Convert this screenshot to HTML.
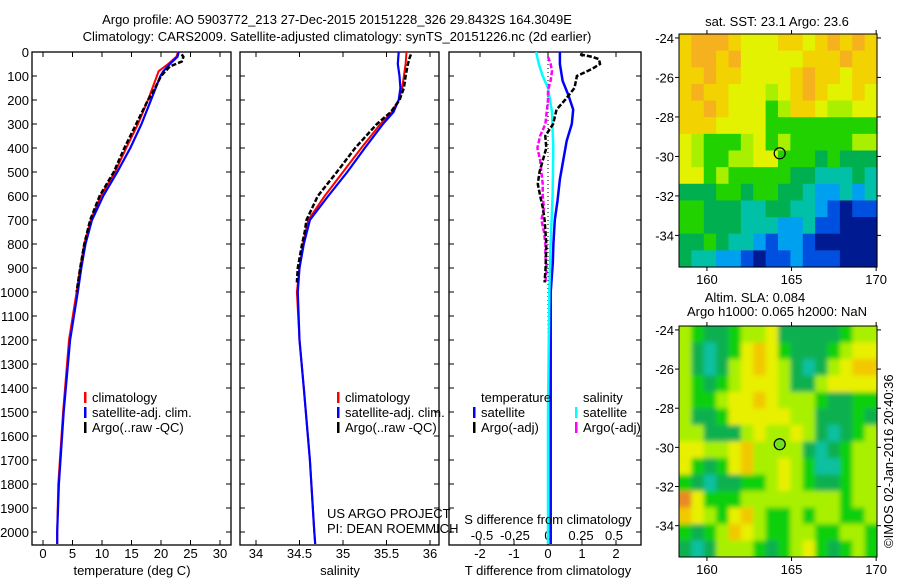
<!DOCTYPE html>
<html><head><meta charset="utf-8">
<style>
html,body{margin:0;padding:0;background:#fff;}
svg{display:block;font-family:"Liberation Sans",sans-serif;}
text{font-size:13px;fill:#000;}
</style></head>
<body>
<svg id="fig" width="900" height="580" viewBox="0 0 900 580" xmlns="http://www.w3.org/2000/svg">
<defs>
<filter id="blurSla" x="-5%" y="-5%" width="110%" height="110%"><feGaussianBlur stdDeviation="2.5"/></filter>
<clipPath id="clipSla"><rect x="679" y="326" width="198" height="231"/></clipPath>
</defs>
<text x="337" y="24" text-anchor="middle">Argo profile: AO 5903772_213 27-Dec-2015 20151228_326 29.8432S 164.3049E</text>
<text x="337" y="41" text-anchor="middle">Climatology: CARS2009. Satellite-adjusted climatology: synTS_20151226.nc (2d earlier)</text>
<g id="plots"></g>
<text x="132" y="575" text-anchor="middle">temperature (deg C)</text>
<text x="340" y="575" text-anchor="middle">salinity</text>
<text x="548" y="575" text-anchor="middle">T difference from climatology</text>
<text x="548" y="524" text-anchor="middle">S difference from climatology</text>
<text x="327" y="518">US ARGO PROJECT</text>
<text x="327" y="533">PI: DEAN ROEMMICH</text>
<text x="777" y="26" text-anchor="middle">sat. SST: 23.1 Argo: 23.6</text>
<text x="755" y="302" text-anchor="middle">Altim. SLA: 0.084</text>
<text x="777" y="316" text-anchor="middle">Argo h1000: 0.065 h2000: NaN</text>
<text x="0" y="0" transform="translate(893,548) rotate(-90)">©IMOS 02-Jan-2016 20:40:36</text>
</svg>
<script>
// ---- profile data ----
const climDepths=[0,20,50,80,100,200,300,400,500,600,700,800,900,1000,1200,1500,1800,2000,2050];
const tempClim=[22.9,22.6,21.2,19.6,19.3,17.8,16.1,14.1,12.2,9.8,8.1,7.0,6.3,5.7,4.4,3.4,2.6,2.4,2.4];
const tempSat=[23.0,22.8,21.5,20.4,19.9,18.3,16.7,14.8,12.6,10.2,8.3,7.2,6.5,5.9,4.6,3.5,2.7,2.4,2.4];
const argoTDepths=[10,20,40,60,100,150,200,300,400,500,600,700,800,900,1000];
const tempArgo=[23.5,23.8,23.5,21.5,20,19,17.8,15.8,13.8,12,9.6,8.0,7.0,6.3,5.7];
const salDepths=[0,50,100,150,200,250,300,400,500,600,700,800,900,1000,1200,1400,1700,2000,2050];
const salClim=[35.73,35.72,35.70,35.68,35.64,35.56,35.43,35.21,35.0,34.79,34.6,34.54,34.5,34.47,34.5,34.55,34.62,34.67,34.68];
const salSat=[35.64,35.63,35.65,35.66,35.64,35.58,35.46,35.25,35.05,34.83,34.62,34.55,34.5,34.48,34.5,34.55,34.62,34.67,34.68];
const argoSDepths=[10,30,60,100,150,200,250,300,400,500,600,700,750,800,900,960];
const salArgo=[35.78,35.76,35.74,35.72,35.70,35.65,35.55,35.39,35.14,34.93,34.71,34.58,34.56,34.53,34.48,34.47];
const dTSatDepths=[0,50,120,180,240,300,370,450,530,620,700,800,880,1000,1500,2000,2050];
const dTSat=[0.35,0.35,0.43,0.6,0.74,0.7,0.55,0.45,0.35,0.28,0.2,0.16,0.14,0.08,0.08,0.08,0.08];
const dSSatDepths=[0,50,100,150,250,400,600,800,1000,1500,2000,2050];
const dSSat=[-0.09,-0.07,-0.04,0,0.03,0.04,0.035,0.02,0.01,0,0,0];
const dTArgoDepths=[10,20,30,50,70,100,150,200,240,300,350,400,450,500,550,600,650,700,800,900,960];
const dTArgo=[0.94,1.3,1.5,1.53,1.3,0.85,0.78,0.5,0.25,0.15,-0.08,-0.05,-0.15,-0.25,-0.3,-0.23,-0.15,-0.1,-0.05,-0.07,-0.1];
const dSArgoDepths=[20,50,80,120,160,200,250,300,350,400,450,500,550,600,650,700,750,800,850,900,960];
const dSArgo=[0.0,0.02,0.03,0.02,0.0,0.0,-0.01,-0.02,-0.06,-0.08,-0.06,-0.05,-0.04,-0.04,-0.03,-0.05,-0.03,-0.02,-0.02,-0.01,-0.02];
const depthTicks=[0,100,200,300,400,500,600,700,800,900,1000,1100,1200,1300,1400,1500,1600,1700,1800,1900,2000];
const tempTicks=[0,5,10,15,20,25,30];
const salTicks=[34,34.5,35,35.5,36];
const salTickLabels=["34","34.5","35","35.5","36"];
const dTTicks=[-2,-1,0,1,2];
const dSTicks=[-0.5,-0.25,0,0.25,0.5];
const dSTickLabels=["-0.5","-0.25","0","0.25","0.5"];
// ---- map data (lat rows north->south, lon cols west->east) ----
const sstLegendColors=["#f5b21e","#f2d200","#e2f200","#a8f000","#22d200","#00b050","#00c0a8","#00a0f0","#0050e0","#001a92"];
const sstGrid=[
"1000122211210101","1001022222111011","1101122221011211","1011222321012212",
"1101222431123322","1112222444444444","2344432434444433","2344332244454555",
"2243444445566656","5554454455677676","4455566556678988","4455566677688999",
"5545667877899999","5667789887888999"];
const slaLegendColors=["#10c0a0","#10b050","#10d010","#a8f000","#e8f000","#f2c800","#e88a20"];
const slaGrid=[
"3211233411111233","3101245421112344","3101345431013455","3212344431134444",
"3223445433321122","3112444443311121","3311134334310123","4433453333101233",
"4212453343200233","2101122343211233","6422233333333233","5432453223233223",
"2123543223322332","1013332123421232"];
const mapLonMin=158.35,mapLonMax=170.05,mapLatMax=-23.8,mapLatMin=-35.6;
const lonTicks=[160,165,170];
const latTicks=[-24,-26,-28,-30,-32,-34];
const argoLon=164.3,argoLat=-29.84;

const NS="http://www.w3.org/2000/svg";
const root=document.getElementById('plots');
function mk(tag,attrs,parent){const e=document.createElementNS(NS,tag);for(const k in attrs)e.setAttribute(k,attrs[k]);(parent||root).appendChild(e);return e;}
const yTop=52,yPer=0.24,yBot=545;
function yD(d){return yTop+d*yPer;}

function panel(name,x0,x1,xf,ticks,labels,showDepth){
  const g=mk('g',{});
  
  
  const r=mk('rect',{x:x0,y:yTop,width:x1-x0,height:yBot-yTop,fill:'none',stroke:'#000','stroke-width':1.3},g);
  
  
  depthTicks.forEach(d=>{
    const y=yD(d);
    mk('line',{x1:x0,x2:x0+5,y1:y,y2:y,stroke:'#000'},g);
    mk('line',{x1:x1-5,x2:x1,y1:y,y2:y,stroke:'#000'},g);
    if(showDepth){const t=mk('text',{x:x0-3,y:y+5,'text-anchor':'end'},g);t.textContent=d;
      
      }
  });
  ticks.forEach((v,i)=>{
    const x=xf(v);
    mk('line',{x1:x,x2:x,y1:yBot,y2:yBot-5,stroke:'#000'},g);
    mk('line',{x1:x,x2:x,y1:yTop,y2:yTop+5,stroke:'#000'},g);
    if(labels){const t=mk('text',{x:x,y:558,'text-anchor':'middle'},g);t.textContent=labels[i];
      
      }
  });
  return g;
}
function line(name,depths,vals,xf,color,w,dash){
  const pts=depths.map((d,i)=>xf(vals[i]).toFixed(1)+','+yD(d).toFixed(1)).join(' ');
  const p=mk('polyline',{points:pts,fill:'none',stroke:color,'stroke-width':w});
  if(dash)p.setAttribute('stroke-dasharray',dash);
  
  
}
function legend(name,x,y,color,label){
  const m=mk('rect',{x:x,y:y-10,width:2.5,height:11,fill:color});
  
  
  const t=mk('text',{x:x+8,y:y});t.textContent=label;
  
  
}
// panel 1 temperature
const xT=v=>43+5.9*v;
panel('temperature-panel',32,231,xT,tempTicks,tempTicks.map(String),true);
line('temp-climatology-line',climDepths,tempClim,xT,'#f00',2);
line('temp-satellite-line',climDepths,tempSat,xT,'#00f',2.2);
line('temp-argo-line',argoTDepths,tempArgo,xT,'#000',2.5,'5,2');
legend('legend-climatology',84,402,'#f00','climatology');
legend('legend-satellite-adj',84,417,'#00f','satellite-adj. clim.');
legend('legend-argo',84,432,'#000','Argo(..raw -QC)');
// panel 2 salinity
const xS=v=>256+87*(v-34);
panel('salinity-panel',240,439,xS,salTicks,salTickLabels,false);
line('sal-climatology-line',salDepths,salClim,xS,'#f00',2);
line('sal-satellite-line',salDepths,salSat,xS,'#00f',2.2);
line('sal-argo-line',argoSDepths,salArgo,xS,'#000',2.5,'5,2');
legend('legend-climatology-2',337,402,'#f00','climatology');
legend('legend-satellite-adj-2',337,417,'#00f','satellite-adj. clim.');
legend('legend-argo-2',337,432,'#000','Argo(..raw -QC)');
// panel 3 differences
const xdT=v=>548+34*v, xdS=v=>548+132*v;
panel('difference-panel',449,641,xdT,dTTicks,dTTicks.map(String),false);
dSTicks.forEach((v,i)=>{const t=mk('text',{x:xdS(v),y:540,'text-anchor':'middle'});t.textContent=dSTickLabels[i];
  
  });
const zl=mk('line',{x1:xdT(0),x2:xdT(0),y1:yD(0),y2:yD(2055),stroke:'#000','stroke-dasharray':'1,3'});


line('dT-satellite-line',dTSatDepths,dTSat,xdT,'#00f',2.5);
line('dS-satellite-line',dSSatDepths,dSSat,xdS,'#0ff',2.5);
line('dS-argo-line',dSArgoDepths,dSArgo,xdS,'#f0f',2.5,'5,2');
line('dT-argo-line',dTArgoDepths,dTArgo,xdT,'#000',2.5,'5,2');
const lt=mk('text',{x:481,y:402});lt.textContent='temperature';


const ls=mk('text',{x:583,y:402});ls.textContent='salinity';


legend('legend-t-satellite',473,417,'#00f','satellite');
legend('legend-t-argo',473,432,'#000','Argo(-adj)');
legend('legend-s-satellite',575,417,'#0ff','satellite');
legend('legend-s-argo',575,432,'#f0f','Argo(-adj)');

// maps
function map(name,grid,colors,x0,y0,x1,y1,circleFill,blurId,clipId){
  const g=mk('g',{});
  
  
  let cg=g;
  if(blurId){
    const outer=mk('g',{'clip-path':'url(#'+clipId+')'},g);
    cg=mk('g',{filter:'url(#'+blurId+')'},outer);
  }
  const rows=grid.length, cols=grid[0].length;
  const cw=(x1-x0)/cols, ch=(y1-y0)/rows;
  grid.forEach((row,r)=>{for(let c=0;c<cols;c++){
    let rx=x0+c*cw, ry=y0+r*ch, w=cw+0.6, h=ch+0.6;
    if(blurId){ if(c===0){rx-=12;w+=12;} if(c===cols-1){w+=12;} if(r===0){ry-=12;h+=12;} if(r===rows-1){h+=12;} }
    const cell=mk('rect',{x:rx.toFixed(2),y:ry.toFixed(2),width:w.toFixed(2),height:h.toFixed(2),fill:colors[+row[c]]},cg);
    
    
  }});
  const fr=mk('rect',{x:x0,y:y0,width:x1-x0,height:y1-y0,fill:'none',stroke:'#000','stroke-width':1},g);
  
  
  const lx=v=>x0+(v-mapLonMin)/(mapLonMax-mapLonMin)*(x1-x0);
  const ly=v=>y0+(mapLatMax-v)/(mapLatMax-mapLatMin)*(y1-y0);
  lonTicks.forEach(v=>{const x=lx(v);
    mk('line',{x1:x,x2:x,y1:y1,y2:y1+4,stroke:'#000'},g);
    mk('line',{x1:x,x2:x,y1:y0,y2:y0-4,stroke:'#000'},g);
    const t=mk('text',{x:x,y:y1+17,'text-anchor':'middle'},g);t.textContent=v;
    
    });
  latTicks.forEach(v=>{const y=ly(v);
    mk('line',{x1:x0,x2:x0-4,y1:y,y2:y,stroke:'#000'},g);
    mk('line',{x1:x1,x2:x1+4,y1:y,y2:y,stroke:'#000'},g);
    const t=mk('text',{x:x0-5,y:y+5,'text-anchor':'end'},g);t.textContent=v;
    
    });
  const c=mk('circle',{cx:lx(argoLon),cy:ly(argoLat),r:5.5,fill:circleFill,stroke:'#000','stroke-width':1.2},g);
  
  
}
map('sst-map',sstGrid,sstLegendColors,679,34,877,267,'none');
map('sla-map',slaGrid,slaLegendColors,679,326,877,557,'#70e020','blurSla','clipSla');
</script>
</body></html>
